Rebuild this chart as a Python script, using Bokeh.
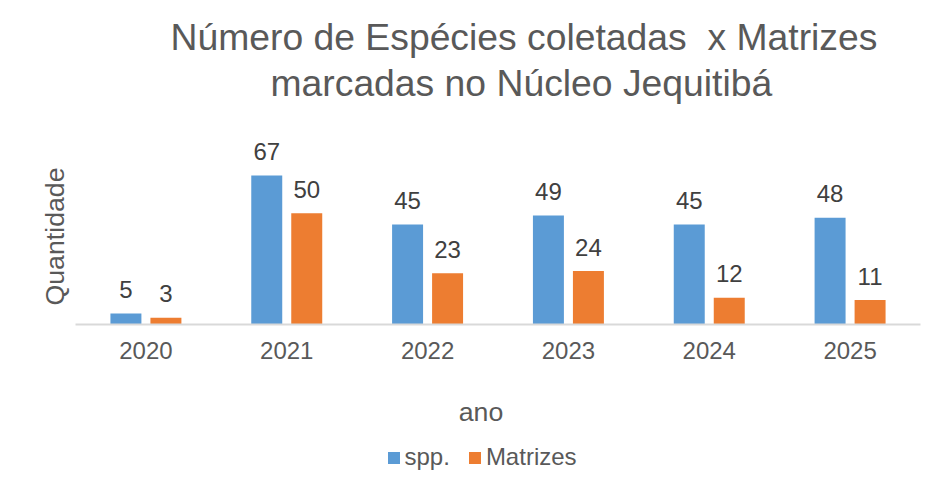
import numpy as np
from bokeh.plotting import figure
from bokeh.layouts import column
from bokeh.models import (ColumnDataSource, FactorRange, Title, Label,
                          Legend, LegendItem, LabelSet)
from bokeh.core.properties import value
from bokeh.transform import dodge
from bokeh.embed import file_html
from bokeh.resources import INLINE

# ---- data ----
years = ["2020", "2021", "2022", "2023", "2024", "2025"]
spp = [5, 67, 45, 49, 45, 48]
matrizes = [3, 50, 23, 24, 12, 11]
series_names = ["spp.", "Matrizes"]
title_lines = ["Número de Espécies coletadas \u00a0x Matrizes",
               "marcadas no Núcleo Jequitibá"]
x_title = "ano"
y_title = "Quantidade"

# ---- styles ----
FONT = "Liberation Sans"
BLUE = "#5B9BD5"
ORANGE = "#ED7D31"
GREY_TXT = "#595959"
LBL_TXT = "#404040"
AXIS_LINE = "#D9D9D9"
W = 935

src = ColumnDataSource(dict(
    year=years, spp=spp, mat=matrizes,
    spp_lbl=[str(v) for v in spp], mat_lbl=[str(v) for v in matrizes],
))

# ---------------- main chart ----------------
p = figure(x_range=FactorRange(*years), y_range=(0, 98.9),
           width=W, height=372, output_backend="svg", toolbar_location=None,
           min_border_left=75, min_border_right=15, min_border_top=104,
           min_border_bottom=48)
p.title.visible = False
p.outline_line_color = None
p.xgrid.grid_line_color = None
p.ygrid.grid_line_color = None
p.background_fill_color = "white"
p.border_fill_color = "white"

bw = 0.22
off = 0.142
p.vbar(x=dodge("year", -off, range=p.x_range), top="spp", width=bw,
       source=src, fill_color=BLUE, line_color=None)
p.vbar(x=dodge("year", off, range=p.x_range), top="mat", width=bw,
       source=src, fill_color=ORANGE, line_color=None)

for col, lbl, o in (("spp", "spp_lbl", -off), ("mat", "mat_lbl", off)):
    p.add_layout(LabelSet(x=dodge("year", o, range=p.x_range), y=col, text=lbl,
                          source=src, y_offset=15.5, text_align="center",
                          text_baseline="alphabetic", text_font=value(FONT),
                          text_font_size="24px", text_color=LBL_TXT))

p.yaxis.visible = False
xa = p.xaxis[0]
xa.axis_line_color = AXIS_LINE
xa.axis_line_width = 2
xa.major_tick_line_color = None
xa.minor_tick_line_color = None
xa.major_label_text_font = FONT
xa.major_label_text_font_size = "24px"
xa.major_label_text_color = GREY_TXT
xa.major_label_standoff = 11

# title lines (innermost first)
p.add_layout(Title(text=title_lines[1], align="left", offset=195, standoff=2,
                   text_font=FONT, text_font_size="37.3px",
                   text_font_style="normal", text_color=GREY_TXT), "above")
p.add_layout(Title(text=title_lines[0], align="left", offset=95, standoff=2,
                   text_font=FONT, text_font_size="37.3px",
                   text_font_style="normal", text_color=GREY_TXT), "above")

# y axis title
p.add_layout(Title(text=y_title, align="left", offset=19, standoff=12,
                   text_font=FONT, text_font_size="26.7px",
                   text_font_style="normal", text_color=GREY_TXT), "left")

# ---------------- axis title + legend strip ----------------
p2 = figure(width=W, height=116, x_range=(0, 1), y_range=(0, 1),
            x_axis_type=None, y_axis_type=None, output_backend="svg",
            toolbar_location=None, min_border_left=0, min_border_right=0,
            min_border_top=0, min_border_bottom=0)
p2.title.visible = False
p2.outline_line_color = None
p2.xgrid.grid_line_color = None
p2.ygrid.grid_line_color = None
p2.border_fill_color = "white"

p2.add_layout(Label(x=405.5, y=77, x_units="screen", y_units="screen",
                    text=x_title, text_align="center",
                    text_baseline="alphabetic", text_font=FONT,
                    text_font_size="26.7px", text_color=GREY_TXT))

# legend key proxies (no visible marks)
nan = np.array([np.nan])
k1 = p2.vbar(x=nan, top=nan, width=1, fill_color=BLUE, line_color=None)
k2 = p2.vbar(x=nan, top=nan, width=1, fill_color=ORANGE, line_color=None)
legend = Legend(items=[LegendItem(label=series_names[0], renderers=[k1]),
                       LegendItem(label=series_names[1], renderers=[k2])],
                orientation="horizontal", location=(310.5, 17),
                glyph_width=15, glyph_height=15, label_standoff=4,
                spacing=17, padding=0, margin=0,
                border_line_color=None, background_fill_alpha=0,
                label_text_font=FONT, label_text_font_size="24px",
                label_text_color=GREY_TXT)
p2.add_layout(legend, "center")

open("out.html", "w").write(file_html(column(p, p2), INLINE))
